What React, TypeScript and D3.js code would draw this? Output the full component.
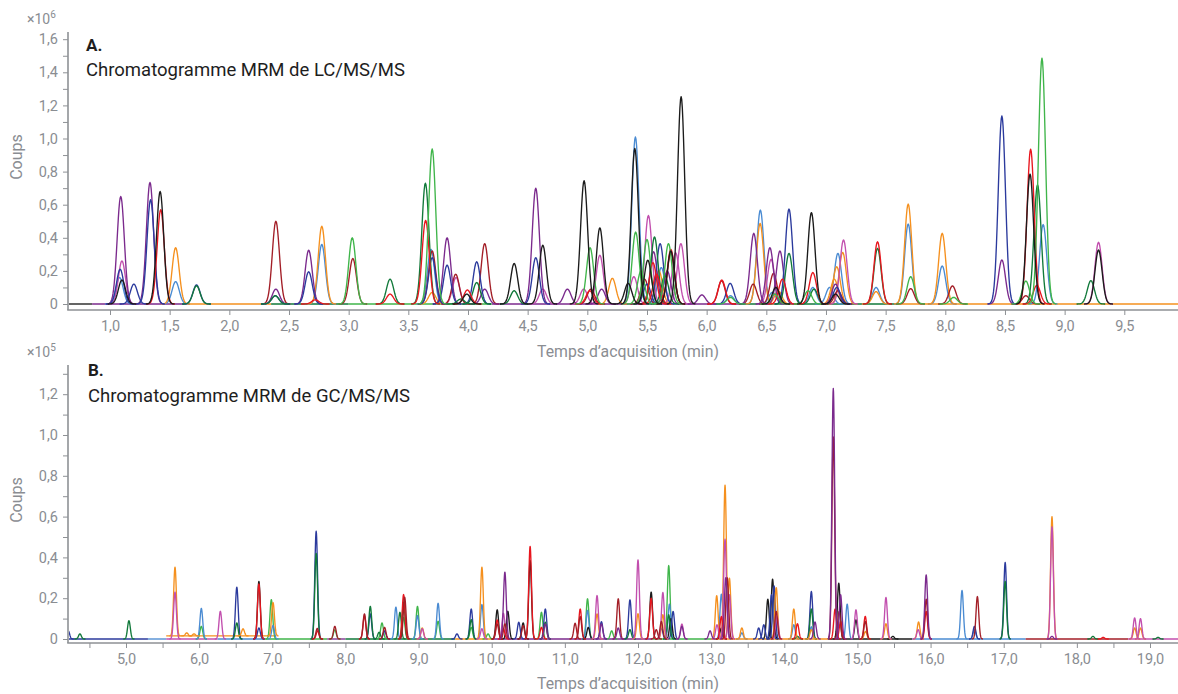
import { useEffect, useRef } from 'react'
import * as d3 from 'd3'

type Peak = [number, number]

const C = {
  black: '#1b1b1b',
  purple: '#7b2a8d',
  magenta: '#c24fae',
  navy: '#2b3a9d',
  lightblue: '#4a8bd2',
  red: '#e8161e',
  darkred: '#a31e27',
  orange: '#f5901e',
  lightgreen: '#3fb54a',
  darkgreen: '#11793a',
}

// ---- A. LC/MS/MS peaks: [retention time (min), height (x10^6 counts)] ----
const lcLightblue: Peak[] = [[1.08, 0.16], [1.55, 0.135], [2.775, 0.36], [3.69, 0.33], [5.403, 1.01], [5.62, 0.22], [6.2, 0.05], [6.45, 0.568], [6.55, 0.07], [6.89, 0.1], [7.03, 0.1], [7.10, 0.306], [7.42, 0.1], [7.689, 0.483], [7.974, 0.23], [8.82, 0.48]]
const lcOrange: Peak[] = [[1.55, 0.34], [2.775, 0.47], [3.70, 0.07], [5.21, 0.155], [5.60, 0.2], [6.448, 0.487], [6.60, 0.08], [7.07, 0.15], [7.09, 0.225], [7.14, 0.312], [7.42, 0.075], [7.689, 0.604], [7.974, 0.427]]
const lcMagenta: Peak[] = [[1.10, 0.26], [3.90, 0.16], [4.627, 0.09], [4.97, 0.09], [5.105, 0.295], [5.39, 0.165], [5.512, 0.535], [5.74, 0.31], [5.784, 0.365], [6.54, 0.27], [7.147, 0.387], [9.284, 0.373]]
const lcDarkred: Peak[] = [[2.39, 0.5], [3.035, 0.275], [3.70, 0.32], [3.897, 0.18], [4.14, 0.365], [5.03, 0.09], [5.48, 0.15], [5.70, 0.31], [6.125, 0.14], [6.39, 0.12], [6.56, 0.185], [7.10, 0.08], [7.71, 0.093], [8.06, 0.109], [8.675, 0.05]]
const lcPurple: Peak[] = [[1.09, 0.65], [1.335, 0.735], [2.39, 0.09], [2.665, 0.325], [3.825, 0.4], [4.14, 0.09], [4.568, 0.7], [4.833, 0.09], [5.12, 0.09], [5.555, 0.316], [5.67, 0.2], [5.96, 0.055], [6.395, 0.427], [6.53, 0.34], [6.614, 0.32], [7.08, 0.12], [8.474, 0.266]]
const lcNavy: Peak[] = [[1.085, 0.21], [1.20, 0.12], [1.34, 0.63], [1.725, 0.115], [2.385, 0.05], [2.665, 0.195], [3.70, 0.28], [3.825, 0.235], [4.073, 0.255], [4.568, 0.28], [5.50, 0.12], [5.61, 0.365], [6.197, 0.125], [6.69, 0.574], [7.09, 0.1], [8.474, 1.136]]
const lcDarkgreen: Peak[] = [[1.725, 0.11], [2.385, 0.05], [3.347, 0.15], [3.643, 0.73], [3.94, 0.03], [4.073, 0.13], [4.387, 0.08], [5.563, 0.405], [5.65, 0.17], [6.69, 0.306], [6.9, 0.09], [7.432, 0.336], [8.773, 0.72], [9.22, 0.141]]
const lcRed: Peak[] = [[1.425, 0.57], [2.72, 0.025], [3.347, 0.06], [3.645, 0.505], [3.995, 0.085], [5.02, 0.08], [5.55, 0.25], [5.58, 0.18], [5.70, 0.33], [6.127, 0.145], [6.635, 0.15], [6.89, 0.19], [7.432, 0.376], [8.715, 0.935], [8.767, 0.113]]
const lcLightgreen: Peak[] = [[3.03, 0.4], [3.70, 0.937], [5.023, 0.34], [5.405, 0.435], [5.45, 0.2], [5.50, 0.39], [5.68, 0.365], [6.2, 0.04], [6.57, 0.06], [6.85, 0.08], [7.71, 0.165], [8.07, 0.04], [8.675, 0.139], [8.81, 1.485]]
const lcBlack: Peak[] = [[1.10, 0.145], [1.42, 0.68], [3.99, 0.06], [4.387, 0.245], [4.627, 0.355], [4.973, 0.745], [5.105, 0.46], [5.342, 0.125], [5.398, 0.94], [5.507, 0.265], [5.70, 0.32], [5.786, 1.253], [6.58, 0.1], [6.878, 0.552], [7.08, 0.06], [8.71, 0.785], [9.284, 0.326]]

// baseline pieces: [from, to, trace, level]
const lcBaseline: [number, number, keyof typeof C, number][] = [
  [0.6, 0.85, 'black', 0], [0.85, 1.65, 'purple', 0], [1.65, 2.35, 'orange', 0], [2.35, 3.0, 'darkgreen', 0],
  [3.0, 4.2, 'lightgreen', 0], [4.2, 6.3, 'purple', 0], [6.3, 7.6, 'darkgreen', 0], [7.6, 10, 'orange', 0],
]

// ---- B. GC/MS/MS peaks: [retention time (min), height (x10^5 counts)] ----
const gcLightblue: Peak[] = [[6.03, 0.15], [7.01, 0.066], [8.69, 0.156], [8.985, 0.115], [9.267, 0.175], [9.866, 0.169], [11.31, 0.14], [12.43, 0.171], [13.14, 0.22], [13.42, 0.03], [14.13, 0.07], [14.37, 0.06], [14.86, 0.171], [16.43, 0.238], [16.6, 0.046]]
const gcOrange: Peak[] = [[5.67, 0.337], [5.83, 0.015], [5.93, 0.01], [6.6, 0.035], [7.01, 0.164], [9.05, 0.054], [9.866, 0.352], [11.44, 0.123], [12.0, 0.124], [12.34, 0.119], [13.076, 0.212], [13.19, 0.754], [13.25, 0.298], [13.42, 0.054], [13.89, 0.252], [14.13, 0.147], [14.37, 0.046], [15.11, 0.037], [15.39, 0.075], [15.836, 0.083], [17.66, 0.6], [18.79, 0.054], [18.87, 0.054]]
const gcMagenta: Peak[] = [[5.67, 0.23], [6.29, 0.136], [9.05, 0.05], [9.866, 0.05], [10.16, 0.126], [11.44, 0.213], [12.0, 0.388], [12.34, 0.228], [12.6, 0.073], [13.08, 0.07], [13.19, 0.489], [13.25, 0.217], [13.9, 0.11], [14.98, 0.143], [15.39, 0.204], [15.83, 0.046], [17.66, 0.55], [18.79, 0.103], [18.87, 0.1]]
const gcDarkred: Peak[] = [[7.615, 0.052], [7.855, 0.062], [8.26, 0.123], [8.535, 0.057], [8.81, 0.205], [10.075, 0.074], [10.18, 0.074], [10.43, 0.066], [11.14, 0.077], [11.21, 0.11], [11.73, 0.197], [12.25, 0.046], [12.32, 0.086], [13.22, 0.3], [13.89, 0.135], [14.67, 0.99], [14.75, 0.135], [15.107, 0.086], [15.94, 0.195], [16.64, 0.208]]
const gcPurple: Peak[] = [[10.18, 0.328], [10.733, 0.074], [11.5, 0.074], [11.73, 0.054], [12.6, 0.062], [12.985, 0.04], [13.2, 0.3], [14.42, 0.083], [14.67, 1.228], [14.77, 0.217], [15.94, 0.314], [17.66, 0.013]]
const gcNavy: Peak[] = [[4.21, 0.04], [6.515, 0.254], [6.817, 0.054], [7.60, 0.528], [8.34, 0.123], [8.535, 0.04], [9.525, 0.025], [9.72, 0.147], [10.37, 0.082], [10.733, 0.147], [11.5, 0.085], [11.89, 0.192], [12.32, 0.054], [12.48, 0.135], [13.65, 0.054], [13.72, 0.07], [13.825, 0.217], [13.86, 0.26], [14.37, 0.233], [16.6, 0.062], [17.02, 0.375]]
const gcDarkgreen: Peak[] = [[4.37, 0.025], [5.04, 0.09], [6.515, 0.079], [7.60, 0.42], [8.34, 0.16], [8.46, 0.033], [8.745, 0.131], [8.795, 0.18], [9.72, 0.095], [10.733, 0.082], [11.89, 0.046], [12.42, 0.119], [14.18, 0.013], [14.37, 0.147], [17.02, 0.282], [18.22, 0.013], [19.11, 0.008]]
const gcRed: Peak[] = [[6.817, 0.27], [7.62, 0.04], [8.26, 0.115], [8.795, 0.218], [10.075, 0.093], [10.16, 0.05], [10.525, 0.454], [10.68, 0.057], [11.21, 0.147], [12.18, 0.2], [13.14, 0.11], [14.18, 0.075], [14.695, 0.147], [14.77, 0.086], [15.107, 0.111], [15.94, 0.135], [18.36, 0.008]]
const gcLightgreen: Peak[] = [[6.03, 0.062], [6.987, 0.193], [7.855, 0.045], [8.50, 0.079], [8.795, 0.106], [8.985, 0.16], [9.267, 0.087], [9.72, 0.057], [9.95, 0.025], [10.68, 0.131], [11.31, 0.197], [11.64, 0.04], [12.42, 0.36]]
const gcBlack: Peak[] = [[6.817, 0.282], [10.075, 0.143], [10.22, 0.136], [10.43, 0.079], [10.525, 0.385], [11.32, 0.057], [12.18, 0.23], [12.45, 0.1], [13.14, 0.054], [13.775, 0.195], [13.84, 0.293], [14.745, 0.274], [14.98, 0.094], [15.485, 0.013]]

const gcBaseline: [number, number, keyof typeof C, number][] = [
  [4.1, 5.3, 'navy', 0], [5.3, 5.55, 'lightblue', 0], [5.55, 6.25, 'magenta', 0], [5.55, 7.05, 'orange', 0.015],
  [6.25, 6.9, 'lightblue', 0], [6.9, 7.75, 'lightgreen', 0], [7.75, 8.0, 'purple', 0], [8.0, 9.5, 'darkgreen', 0],
  [9.5, 10.0, 'orange', 0], [10.0, 12.2, 'purple', 0], [12.2, 13.0, 'lightgreen', 0], [13.0, 14.6, 'orange', 0],
  [14.6, 15.75, 'black', 0], [15.75, 17.3, 'lightblue', 0], [17.3, 18.7, 'darkred', 0], [18.7, 19.5, 'magenta', 0],
]

const lcTraces: [keyof typeof C, Peak[]][] = [
  ['lightblue', lcLightblue], ['orange', lcOrange], ['magenta', lcMagenta], ['darkred', lcDarkred], ['purple', lcPurple],
  ['navy', lcNavy], ['darkgreen', lcDarkgreen], ['red', lcRed], ['lightgreen', lcLightgreen], ['black', lcBlack],
]
const gcTraces: [keyof typeof C, Peak[]][] = [
  ['lightgreen', gcLightgreen], ['lightblue', gcLightblue], ['black', gcBlack], ['navy', gcNavy], ['darkgreen', gcDarkgreen],
  ['orange', gcOrange], ['magenta', gcMagenta], ['red', gcRed], ['darkred', gcDarkred], ['purple', gcPurple],
]

const FONT = 'Roboto, "Noto Sans", sans-serif'
const GRAY = '#8a8d92'
const AXIS = '#8e9195'

const fmt = (v: number) => (v === 0 ? '0' : d3.format('.1f')(v).replace('.', ','))

function peakPoints(t: number, h: number, sigma: number, base: number): [number, number][] {
  const pts: [number, number][] = []
  const n = 24
  for (let i = -n; i <= n; i++) {
    const z = (i / n) * 4
    pts.push([t + z * sigma, base + h * Math.exp(-0.5 * z * z)])
  }
  return pts
}

function drawPanel(svg: d3.Selection<SVGSVGElement, unknown, null, undefined>, cfg: any) {
  const { id, x, y, top, axisY, yTicks, xTicks, xLabelEvery, sigma, traces, baseline, exp, letter, title, titleX, letterY, titleY, coupsY, xLabelY } = cfg
  const [x0, x1] = x.range()

  svg.append('clipPath').attr('id', id).append('rect')
    .attr('x', x0 + 1).attr('y', top - 10).attr('width', x1 - x0).attr('height', axisY - top + 9)

  const plot = svg.append('g').attr('clip-path', `url(#${id})`)
  const line = d3.line<[number, number]>().x(d => x(d[0])).y(d => y(d[1]))

  baseline.forEach(([a, b, c, lvl]: [number, number, keyof typeof C, number]) => {
    plot.append('path').attr('d', line([[a, lvl], [b, lvl]]))
      .attr('fill', 'none').attr('stroke', C[c]).attr('stroke-width', 1.35)
  })

  traces.forEach(([c, peaks]: [keyof typeof C, Peak[]]) => {
    peaks.forEach(([t, h]) => {
      const seg = baseline.find((s: any) => s[2] === c && t >= s[0] && t <= s[1])
      const base = seg ? seg[3] : 0
      plot.append('path').attr('d', line(peakPoints(t, h, sigma, base)))
        .attr('fill', 'none').attr('stroke', C[c]).attr('stroke-width', 1.35)
        .attr('stroke-linejoin', 'round')
    })
  })

  // y axis
  const ya = svg.append('g').attr('transform', `translate(${x0},0)`)
    .call(d3.axisLeft(y).tickValues(yTicks).tickSize(5).tickPadding(5)
      .tickFormat((d: any, i: number) => (i % 2 === 0 ? fmt(+d) : '')))
  ya.select('.domain').remove()
  ya.selectAll('line').attr('stroke', AXIS).attr('stroke-width', 1)
  ya.selectAll('text').attr('fill', GRAY).attr('font-size', 14.5).attr('font-family', FONT)

  // x axis
  const xa = svg.append('g').attr('transform', `translate(0,${axisY})`)
    .call(d3.axisBottom(x).tickValues(xTicks).tickSize(5).tickPadding(6)
      .tickFormat((d: any) => (Math.abs(+d % xLabelEvery) < 1e-9 ? fmt(+d) : '')))
  xa.select('.domain').remove()
  xa.selectAll('line').attr('stroke', AXIS).attr('stroke-width', 1)
  xa.selectAll('text').attr('fill', GRAY).attr('font-size', 14.5).attr('font-family', FONT)

  svg.append('line').attr('x1', x0).attr('x2', x0).attr('y1', top).attr('y2', axisY)
    .attr('stroke', AXIS).attr('stroke-width', 1.6)
  svg.append('line').attr('x1', x0 - 0.8).attr('x2', x1).attr('y1', axisY).attr('y2', axisY)
    .attr('stroke', AXIS).attr('stroke-width', 1.6)

  const ex = svg.append('text').attr('x', 27).attr('y', top - 8).attr('fill', GRAY)
    .attr('font-size', 14).attr('font-family', FONT)
  ex.append('tspan').text('×10')
  ex.append('tspan').attr('font-size', 10).attr('dy', -6).text(exp)

  svg.append('text').attr('transform', `translate(22,${coupsY}) rotate(-90)`)
    .attr('text-anchor', 'middle').attr('fill', GRAY).attr('font-size', 16).attr('font-family', FONT)
    .text('Coups')

  svg.append('text').attr('x', titleX).attr('y', letterY).attr('fill', '#1e1e1e')
    .attr('font-size', 17).attr('font-weight', 700).attr('font-family', FONT).text(letter)
  svg.append('text').attr('x', titleX).attr('y', titleY).attr('fill', '#1e1e1e')
    .attr('font-size', 18.5).attr('font-family', FONT).text(title)

  svg.append('text').attr('x', 628).attr('y', xLabelY).attr('text-anchor', 'middle')
    .attr('fill', GRAY).attr('font-size', 15.8).attr('font-family', FONT)
    .text('Temps d’acquisition (min)')
}

export default function App() {
  const ref = useRef<SVGSVGElement>(null)

  useEffect(() => {
    if (!ref.current) return
    const svg = d3.select(ref.current)
    svg.selectAll('*').remove()

    const xA = d3.scaleLinear().domain([0.648, 9.95]).range([68, 1178])
    const yA = d3.scaleLinear().domain([0, 1.6]).range([304, 39.2])
    drawPanel(svg, {
      id: 'clipA', x: xA, y: yA, top: 32, axisY: 310,
      yTicks: d3.range(0, 17).map(i => i / 10),
      xTicks: d3.range(2, 20).map(i => i / 2), xLabelEvery: 0.5,
      sigma: 0.03, traces: lcTraces, baseline: lcBaseline, exp: '6',
      letter: 'A.', title: 'Chromatogramme MRM de LC/MS/MS', titleX: 86, letterY: 51, titleY: 76,
      coupsY: 157, xLabelY: 357,
    })

    const xB = d3.scaleLinear().domain([5, 19]).range([126, 1150])
    const yB = d3.scaleLinear().domain([0, 1.2]).range([639, 394.2])
    drawPanel(svg, {
      id: 'clipB', x: xB.copy().domain([xB.invert(68), xB.invert(1178)]).range([68, 1178]), y: yB, top: 365, axisY: 643,
      yTicks: d3.range(0, 14).map(i => i / 10),
      xTicks: d3.range(9, 39).map(i => i / 2), xLabelEvery: 1,
      sigma: 0.019, traces: gcTraces, baseline: gcBaseline, exp: '5',
      letter: 'B.', title: 'Chromatogramme MRM de GC/MS/MS', titleX: 88, letterY: 376, titleY: 402,
      coupsY: 500, xLabelY: 689,
    })
  }, [])

  return (
    <div style={{ position: 'absolute', left: 0, top: 0 }}>
      <svg ref={ref} width={1178} height={694} style={{ display: 'block', background: '#fff' }} />
    </div>
  )
}
